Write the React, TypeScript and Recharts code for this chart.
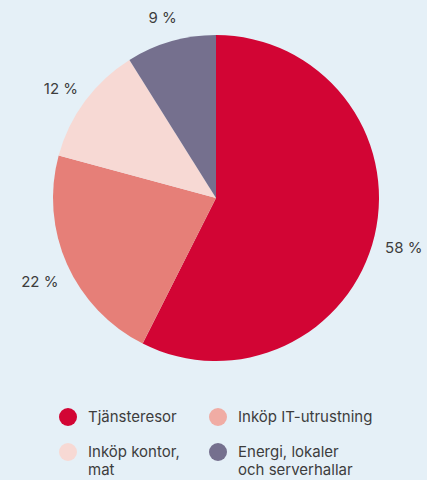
import { PieChart, Pie, Cell } from 'recharts';

const categories = ['Tjänsteresor', 'Inköp IT-utrustning', 'Inköp kontor, mat', 'Energi, lokaler och serverhallar'];
const shares = [58, 22, 12, 9];
const sliceColors = ['#d20534', '#e67f78', '#f7d9d4', '#75708e'];
const legendColors = ['#d20534', '#f0aca4', '#f7d9d4', '#75708e'];
const legendLines = [['Tjänsteresor'], ['Inköp IT-utrustning'], ['Inköp kontor,', 'mat'], ['Energi, lokaler', 'och serverhallar']];

const data = categories.map((name, i) => ({ name, value: shares[i] }));

const RAD = Math.PI / 180;

function renderLabel(props: any) {
  const { cx, cy, midAngle, outerRadius, value } = props;
  const r = outerRadius + 30;
  const x = cx + r * Math.cos(-midAngle * RAD);
  const y = cy + r * Math.sin(-midAngle * RAD) + 5;
  return (
    <text x={x} y={y} fill="#3d3d3d" fontSize={15} textAnchor="middle" dominantBaseline="central">
      {`${value} %`}
    </text>
  );
}

function LegendItem({ i, left, top }: { i: number; left: number; top: number }) {
  return (
    <div style={{ position: 'absolute', left, top, display: 'flex', alignItems: 'flex-start' }}>
      <span
        style={{
          width: 18,
          height: 18,
          borderRadius: '50%',
          background: legendColors[i],
          flexShrink: 0,
        }}
      />
      <span style={{ marginLeft: 11, fontSize: 15, lineHeight: '18px', color: '#3d3d3d' }}>
        {legendLines[i].map((l) => (
          <div key={l}>{l}</div>
        ))}
      </span>
    </div>
  );
}

export default function App() {
  return (
    <div
      style={{
        position: 'absolute',
        left: 0,
        top: 0,
        width: 427,
        height: 480,
        background: '#e5f0f7',
        fontFamily: 'Inter, sans-serif',
        overflow: 'hidden',
      }}
    >
      <PieChart width={427} height={390} margin={{ top: 0, right: 0, bottom: 0, left: 0 }}>
        <Pie
          data={data}
          dataKey="value"
          nameKey="name"
          cx={216}
          cy={198}
          outerRadius={163}
          startAngle={90}
          endAngle={-270}
          stroke="none"
          label={renderLabel}
          labelLine={false}
          isAnimationActive={false}
        >
          {data.map((d, i) => (
            <Cell key={d.name} fill={sliceColors[i]} />
          ))}
        </Pie>
      </PieChart>
      <LegendItem i={0} left={59} top={408} />
      <LegendItem i={1} left={209} top={408} />
      <LegendItem i={2} left={59} top={443} />
      <LegendItem i={3} left={209} top={443} />
    </div>
  );
}
